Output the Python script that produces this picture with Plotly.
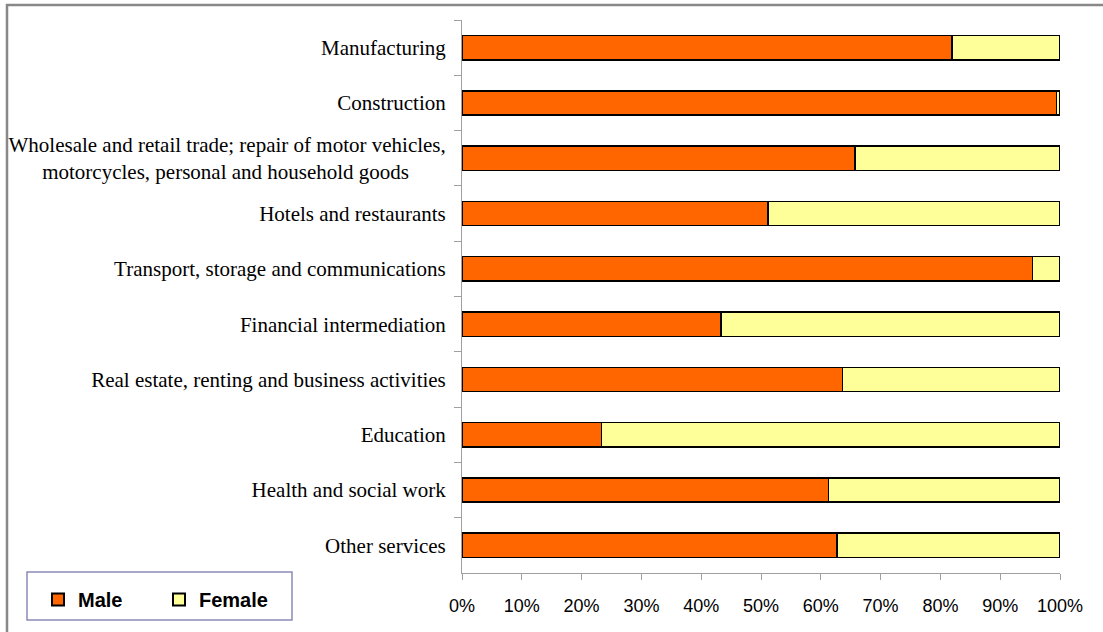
import plotly.graph_objects as go

categories = [
    "Manufacturing",
    "Construction",
    "Wholesale and retail trade; repair of motor vehicles,<br>motorcycles, personal and household goods" + "\u00a0" * 7,
    "Hotels and restaurants",
    "Transport, storage and communications",
    "Financial intermediation",
    "Real estate, renting and business activities",
    "Education",
    "Health and social work",
    "Other services",
]
male = [81.9, 99.4, 65.7, 51.2, 95.4, 43.3, 63.6, 23.3, 61.3, 62.7]
female = [round(100 - m, 1) for m in male]
x_ticks = [0, 10, 20, 30, 40, 50, 60, 70, 80, 90, 100]
x_ticktext = [f"{v}%" for v in x_ticks]

W, H = 1103, 632
L, R, T, B = 462, 43, 20, 59
pw, ph = W - L - R, H - T - B

def px2paper_x(px):
    return (px - L) / pw

def px2paper_y(py):
    return (H - B - py) / ph

fig = go.Figure()
fig.add_trace(go.Bar(
    y=categories, x=male, name="Male", orientation="h",
    marker=dict(color="#FF6600", line=dict(color="#000000", width=1.5)),
))
fig.add_trace(go.Bar(
    y=categories, x=female, name="Female", orientation="h",
    marker=dict(color="#FFFF99", line=dict(color="#000000", width=1.5)),
))

fig.update_layout(
    width=W, height=H,
    margin=dict(l=L, r=R, t=T, b=B, autoexpand=False),
    barmode="stack",
    bargap=0.56,
    plot_bgcolor="white",
    paper_bgcolor="white",
    showlegend=True,
    legend=dict(
        orientation="h",
        traceorder="normal",
        x=px2paper_x(38), y=px2paper_y(580),
        xanchor="left", yanchor="top",
        borderwidth=0,
        bgcolor="rgba(0,0,0,0)",
        font=dict(family="Liberation Sans, Arial", size=20, color="#000000", weight="bold"),
        entrywidth=76, entrywidthmode="pixels",
        itemsizing="constant",
    ),
    xaxis=dict(
        range=[0, 100],
        tickvals=x_ticks, ticktext=x_ticktext,
        showgrid=False, zeroline=False,
        showline=True, linecolor="#A0A0A0", linewidth=1,
        ticks="outside", ticklen=6, tickcolor="#A0A0A0",
        tickfont=dict(family="Liberation Sans Narrow, Liberation Sans, Arial", size=18, color="#000000"),
        ticklabelstandoff=10,
        fixedrange=True,
    ),
    yaxis=dict(
        autorange="reversed",
        showgrid=False, zeroline=False,
        showline=True, linecolor="#A0A0A0", linewidth=1,
        ticks="outside", ticklen=7, tickcolor="#A0A0A0",
        tickson="boundaries",
        tickfont=dict(family="Liberation Serif, Times New Roman", size=21, color="#000000"),
        ticklabelstandoff=11,
        fixedrange=True,
    ),
    shapes=[
        dict(
            type="rect", xref="paper", yref="paper",
            x0=px2paper_x(7), x1=px2paper_x(1120),
            y0=px2paper_y(650), y1=px2paper_y(5),
            line=dict(color="#888888", width=2.5),
            fillcolor="rgba(0,0,0,0)", layer="below",
        ),
        dict(
            type="rect", xref="paper", yref="paper",
            x0=px2paper_x(27), x1=px2paper_x(292),
            y0=px2paper_y(620), y1=px2paper_y(572),
            line=dict(color="#8A8AB8", width=1.5),
            fillcolor="white", layer="below",
        ),
    ],
)

fig.write_html(
    "out.html",
    config={"displayModeBar": False},
    post_script="document.body.style.margin='0';document.body.style.padding='0';",
)
